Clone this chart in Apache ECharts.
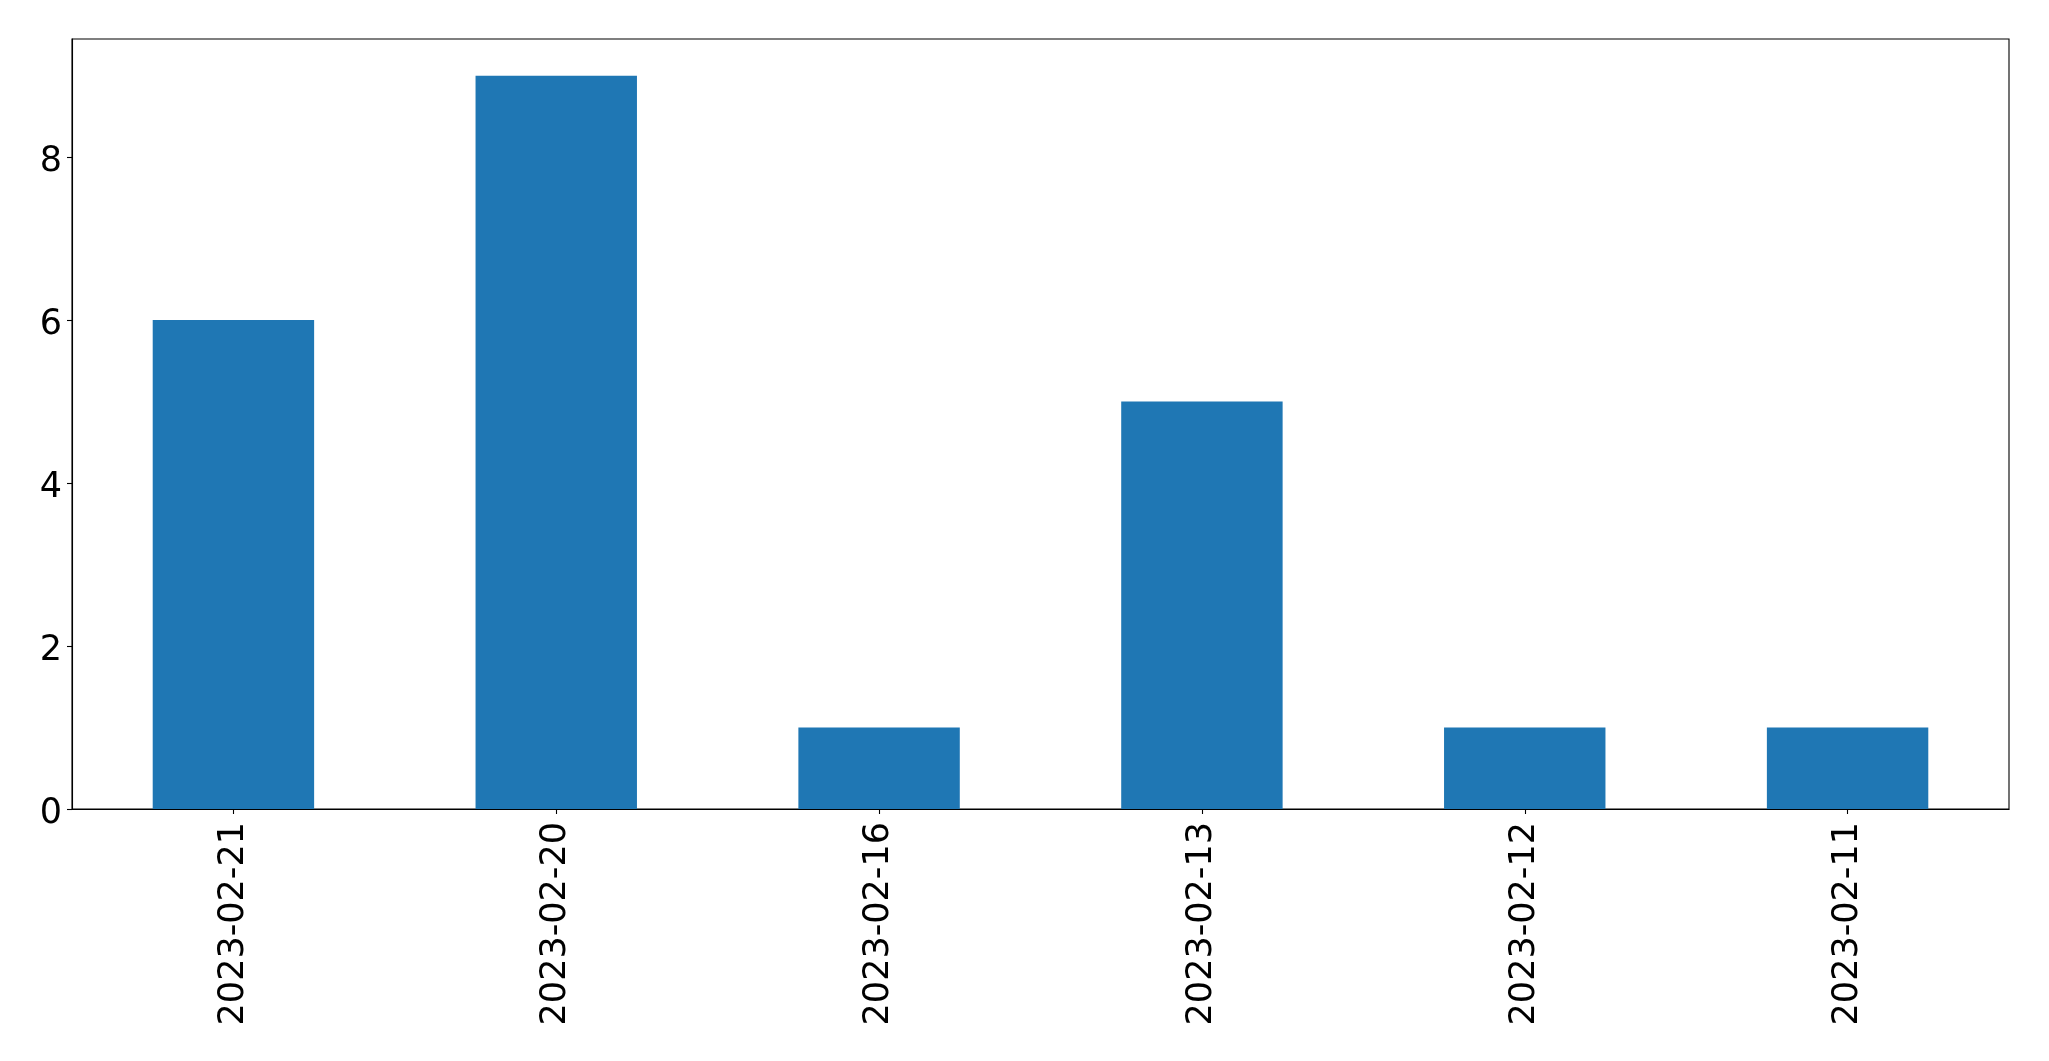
<!DOCTYPE html>
<html>
<head>
<meta charset="utf-8">
<script src="https://cdn.jsdelivr.net/npm/echarts@6/dist/echarts.min.js"></script>
<style>html,body{margin:0;padding:0;background:#fff;}#c{width:2049px;height:1061px;}</style>
</head>
<body>
<div id="c"></div>
<script>
const categories = ['2023-02-21', '2023-02-20', '2023-02-16', '2023-02-13', '2023-02-12', '2023-02-11'];
const values = [6, 9, 1, 5, 1, 1];
const yTicks = [0, 2, 4, 6, 8];

const chart = echarts.init(document.getElementById('c'), null, {renderer: 'canvas'});
chart.setOption({
  animation: false,
  backgroundColor: '#ffffff',
  grid: {
    left: 72, right: 40, top: 39, bottom: 252,
    show: true, borderColor: '#000', borderWidth: 1.1, backgroundColor: 'transparent'
  },
  xAxis: {
    type: 'category',
    data: categories,
    axisLine: {show: true, lineStyle: {color: '#000', width: 1.1}},
    axisTick: {show: true, alignWithLabel: true, length: 5, lineStyle: {color: '#000', width: 1.1}},
    axisLabel: {
      rotate: 90, margin: 13, color: '#000', fontSize: 35,
      fontFamily: 'DejaVu Sans'
    },
    splitLine: {show: false}
  },
  yAxis: {
    type: 'value',
    min: 0, max: 9.45, interval: 2,
    axisLine: {show: true, lineStyle: {color: '#000', width: 1.1}},
    axisTick: {show: true, length: 5, lineStyle: {color: '#000', width: 1.1}},
    axisLabel: {
      margin: 10, color: '#000', fontSize: 35, fontFamily: 'DejaVu Sans',
      showMaxLabel: false,
      formatter: function (v) { return yTicks.indexOf(v) >= 0 ? '{a|' + v + '}' : ''; },
      rich: {
        a: {fontSize: 35, fontFamily: 'DejaVu Sans', color: '#000', padding: [9, 0, 0, 0]}
      }
    },
    splitLine: {show: false}
  },
  series: [{
    type: 'bar',
    data: values,
    barWidth: '50%',
    itemStyle: {color: '#1f77b4'}
  }]
});
</script>
</body>
</html>
